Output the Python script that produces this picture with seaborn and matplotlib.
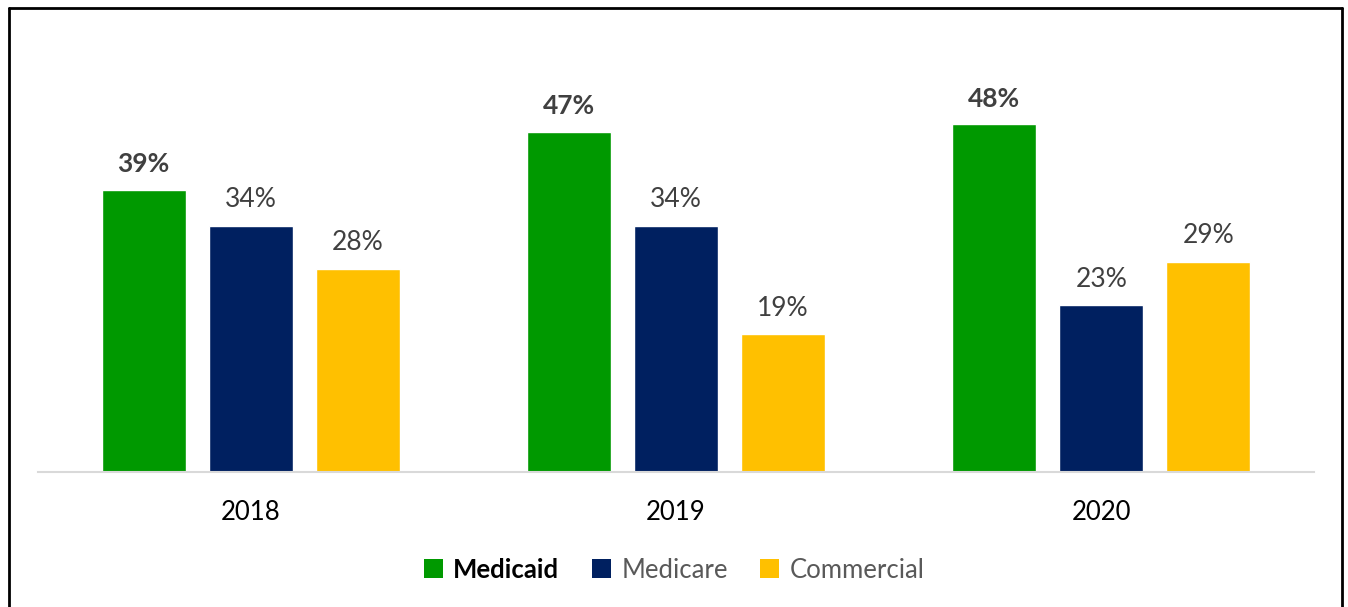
import matplotlib
matplotlib.use("Agg")
import matplotlib.pyplot as plt
from matplotlib.lines import Line2D
from matplotlib.patches import Patch
import pandas as pd
import seaborn as sns

years = ["2018", "2019", "2020"]
payers = ["Medicaid", "Medicare", "Commercial"]
medicaid = [39, 47, 48]
medicare = [34, 34, 23]
commercial = [28, 19, 29]
palette = ["#009900", "#002060", "#FFC000"]

df = pd.DataFrame({
    "Year": years * 3,
    "Payer": [p for p in payers for _ in years],
    "Share": medicaid + medicare + commercial,
})

sns.set_theme(style="white")
plt.rcParams["font.family"] = ["Lato", "DejaVu Sans"]

fig = plt.figure(figsize=(13.48, 6.07), dpi=100)
ax = fig.add_axes([38 / 1348, 135 / 607, 1276 / 1348, 434.4 / 607])

sns.barplot(data=df, x="Year", y="Share", hue="Payer", order=years,
            hue_order=payers, palette=palette, width=0.755, gap=0.215,
            saturation=1, legend=False, ax=ax)

ax.set_xlim(-0.5, 2.5)
ax.set_ylim(0, 60)
ax.set_xlabel("")
ax.set_ylabel("")
ax.set_yticks([])
ax.tick_params(axis="x", length=0, labelsize=18.5, labelcolor="black", pad=20)
for side in ("left", "right", "top"):
    ax.spines[side].set_visible(False)
ax.spines["bottom"].set_color("#D9D9D9")
ax.spines["bottom"].set_linewidth(1.5)

for i, cont in enumerate(ax.containers):
    labels = ax.bar_label(cont, fmt="%d%%", padding=10, fontsize=19,
                          color="#404040")
    if i == 0:
        for t in labels:
            t.set_fontweight("bold")

handles = [Patch(facecolor=c, edgecolor="none") for c in palette]
leg = fig.legend(handles, payers, loc="center", bbox_to_anchor=(0.5, 1 - 570 / 607),
                 ncol=3, frameon=False, fontsize=18.5, handlelength=0.75,
                 handleheight=0.75, handletextpad=0.4, columnspacing=1.25)
for i, txt in enumerate(leg.get_texts()):
    if i == 0:
        txt.set_fontweight("bold")
        txt.set_color("black")
    else:
        txt.set_color("#595959")

# frame around the chart area (open at the bottom)
lw = 2
fig.add_artist(Line2D([9 / 1348, 9 / 1348], [0, 1 - 8 / 607], color="black", lw=lw))
fig.add_artist(Line2D([9 / 1348, 1342 / 1348], [1 - 8 / 607, 1 - 8 / 607], color="black", lw=lw))
fig.add_artist(Line2D([1342 / 1348, 1342 / 1348], [0, 1 - 8 / 607], color="black", lw=lw))

fig.savefig("out.png", dpi=100, facecolor="white")
